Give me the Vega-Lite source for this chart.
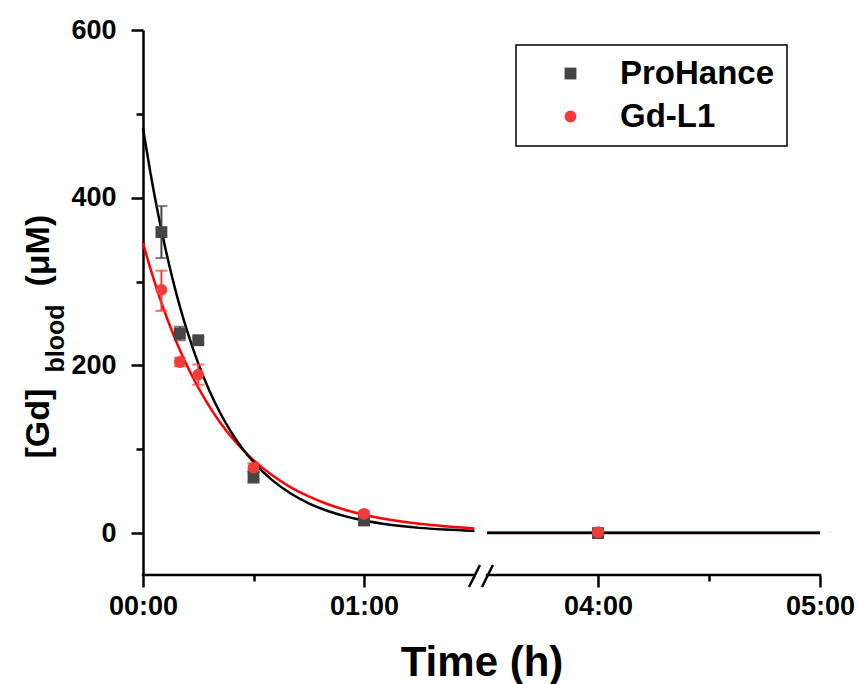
{
  "$schema": "https://vega.github.io/schema/vega-lite/v6.json",
  "width": 677,
  "height": 545,
  "autosize": {"type": "none"},
  "padding": {"left": 143, "top": 30, "right": 38, "bottom": 109},
  "background": "white",
  "config": {
    "view": {"stroke": null},
    "font": "Liberation Sans",
    "axis": {"grid": false},
    "legend": {
      "orient": "none", "legendX": 373, "legendY": 15, "padding": 12,
      "strokeColor": "black", "strokeWidth": 1.5, "fillColor": "white",
      "labelFont": "Liberation Sans", "labelFontSize": 33, "labelFontWeight": "bold", "labelColor": "black",
      "symbolSize": 140, "symbolOffset": 26, "labelOffset": 33, "rowPadding": 9, "symbolStrokeWidth": 0
    }
  },
  "datasets": {
    "pts": [
      {"series": "ProHance", "t": 5, "v": 359, "lo": 328, "hi": 390},
      {"series": "ProHance", "t": 10, "v": 238, "lo": 230, "hi": 246},
      {"series": "ProHance", "t": 15, "v": 230, "lo": 226, "hi": 234},
      {"series": "ProHance", "t": 30, "v": 67, "lo": 60, "hi": 75},
      {"series": "ProHance", "t": 60, "v": 15, "lo": 11, "hi": 19},
      {"series": "ProHance", "t": 240, "v": 0},
      {"series": "Gd-L1", "t": 5, "v": 290, "lo": 265, "hi": 313},
      {"series": "Gd-L1", "t": 10, "v": 204, "lo": 199, "hi": 209},
      {"series": "Gd-L1", "t": 15, "v": 189, "lo": 177, "hi": 201},
      {"series": "Gd-L1", "t": 30, "v": 78, "lo": 73, "hi": 83},
      {"series": "Gd-L1", "t": 60, "v": 23, "lo": 20, "hi": 26},
      {"series": "Gd-L1", "t": 240, "v": 1}
    ],
    "curves": [
      {"series": "ProHance", "seg": "L", "t": 0, "v": 483},
      {"series": "ProHance", "seg": "L", "t": 2, "v": 430.1},
      {"series": "ProHance", "seg": "L", "t": 4, "v": 383.0},
      {"series": "ProHance", "seg": "L", "t": 6, "v": 341.1},
      {"series": "ProHance", "seg": "L", "t": 8, "v": 303.7},
      {"series": "ProHance", "seg": "L", "t": 10, "v": 270.4},
      {"series": "ProHance", "seg": "L", "t": 12, "v": 240.8},
      {"series": "ProHance", "seg": "L", "t": 15, "v": 202.4},
      {"series": "ProHance", "seg": "L", "t": 18, "v": 170.0},
      {"series": "ProHance", "seg": "L", "t": 21, "v": 142.9},
      {"series": "ProHance", "seg": "L", "t": 24, "v": 120.1},
      {"series": "ProHance", "seg": "L", "t": 27, "v": 100.9},
      {"series": "ProHance", "seg": "L", "t": 30, "v": 84.8},
      {"series": "ProHance", "seg": "L", "t": 35, "v": 63.4},
      {"series": "ProHance", "seg": "L", "t": 40, "v": 47.5},
      {"series": "ProHance", "seg": "L", "t": 45, "v": 35.5},
      {"series": "ProHance", "seg": "L", "t": 50, "v": 26.6},
      {"series": "ProHance", "seg": "L", "t": 55, "v": 19.9},
      {"series": "ProHance", "seg": "L", "t": 60, "v": 14.9},
      {"series": "ProHance", "seg": "L", "t": 67, "v": 9.9},
      {"series": "ProHance", "seg": "L", "t": 75, "v": 6.2},
      {"series": "ProHance", "seg": "L", "t": 82, "v": 4.2},
      {"series": "ProHance", "seg": "L", "t": 90, "v": 2.6},
      {"series": "ProHance", "seg": "R", "t": 210, "v": 0},
      {"series": "ProHance", "seg": "R", "t": 300, "v": 0},
      {"series": "Gd-L1", "seg": "L", "t": 0, "v": 346},
      {"series": "Gd-L1", "seg": "L", "t": 2, "v": 315.6},
      {"series": "Gd-L1", "seg": "L", "t": 4, "v": 287.8},
      {"series": "Gd-L1", "seg": "L", "t": 6, "v": 262.5},
      {"series": "Gd-L1", "seg": "L", "t": 8, "v": 239.5},
      {"series": "Gd-L1", "seg": "L", "t": 10, "v": 218.4},
      {"series": "Gd-L1", "seg": "L", "t": 12, "v": 199.2},
      {"series": "Gd-L1", "seg": "L", "t": 15, "v": 173.6},
      {"series": "Gd-L1", "seg": "L", "t": 18, "v": 151.2},
      {"series": "Gd-L1", "seg": "L", "t": 21, "v": 131.7},
      {"series": "Gd-L1", "seg": "L", "t": 24, "v": 114.7},
      {"series": "Gd-L1", "seg": "L", "t": 27, "v": 99.9},
      {"series": "Gd-L1", "seg": "L", "t": 30, "v": 87.0},
      {"series": "Gd-L1", "seg": "L", "t": 35, "v": 69.2},
      {"series": "Gd-L1", "seg": "L", "t": 40, "v": 54.9},
      {"series": "Gd-L1", "seg": "L", "t": 45, "v": 43.7},
      {"series": "Gd-L1", "seg": "L", "t": 50, "v": 34.7},
      {"series": "Gd-L1", "seg": "L", "t": 55, "v": 27.6},
      {"series": "Gd-L1", "seg": "L", "t": 60, "v": 21.9},
      {"series": "Gd-L1", "seg": "L", "t": 67, "v": 15.9},
      {"series": "Gd-L1", "seg": "L", "t": 75, "v": 11.0},
      {"series": "Gd-L1", "seg": "L", "t": 82, "v": 8.0},
      {"series": "Gd-L1", "seg": "L", "t": 90, "v": 5.5},
      {"series": "Gd-L1", "seg": "R", "t": 210, "v": 0.8},
      {"series": "Gd-L1", "seg": "R", "t": 300, "v": 0.8}
    ]
  },
  "layer": [
    {
      "data": {"name": "curves"},
      "transform": [{"filter": "datum.series == 'Gd-L1'"}],
      "mark": {"type": "line", "color": "#ff0000", "strokeWidth": 2.5, "interpolate": "monotone"},
      "encoding": {
        "x": {"field": "t", "type": "quantitative"},
        "y": {
          "field": "v", "type": "quantitative",
          "axis": {
            "orient": "left", "values": [100, 300, 500], "labels": false, "domain": false, "grid": false,
            "ticks": true, "tickSize": 7, "tickWidth": 2.5, "tickColor": "black",
            "title": "blood", "titleFont": "Liberation Sans", "titleFontSize": 25, "titleFontWeight": "bold",
            "titleColor": "black", "titleAngle": 270, "titleAlign": "left", "titleBaseline": "alphabetic",
            "titleX": -80, "titleY": 342
          }
        },
        "detail": {"field": "seg"}
      }
    },
    {
      "data": {"name": "curves"},
      "transform": [{"filter": "datum.series == 'ProHance'"}],
      "mark": {"type": "line", "color": "#000000", "strokeWidth": 2.5, "interpolate": "monotone"},
      "encoding": {
        "x": {"field": "t", "type": "quantitative"},
        "y": {
          "field": "v", "type": "quantitative",
          "axis": {
            "orient": "left", "labels": false, "ticks": false, "domain": false, "grid": false,
            "title": "(μM)", "titleFont": "Liberation Sans", "titleFontSize": 34, "titleFontWeight": "bold",
            "titleColor": "black", "titleAngle": 270, "titleAlign": "left", "titleBaseline": "alphabetic",
            "titleX": -95, "titleY": 256
          }
        },
        "detail": {"field": "seg"}
      }
    },
    {
      "data": {"name": "pts"},
      "transform": [{"filter": "datum.series == 'ProHance' && isValid(datum.lo)"}],
      "mark": {"type": "errorbar", "color": "#454545", "thickness": 2, "ticks": {"size": 12, "thickness": 2}},
      "encoding": {
        "x": {"field": "t", "type": "quantitative"},
        "y": {"field": "lo", "type": "quantitative", "axis": null},
        "y2": {"field": "hi"}
      }
    },
    {
      "data": {"name": "pts"},
      "transform": [{"filter": "datum.series == 'Gd-L1' && isValid(datum.lo)"}],
      "mark": {"type": "errorbar", "color": "#f23c3c", "thickness": 2, "ticks": {"size": 12, "thickness": 2}},
      "encoding": {
        "x": {"field": "t", "type": "quantitative"},
        "y": {"field": "lo", "type": "quantitative", "axis": null},
        "y2": {"field": "hi"}
      }
    },
    {
      "data": {"name": "pts"},
      "mark": {"type": "point", "filled": true, "opacity": 1, "size": 140},
      "encoding": {
        "x": {
          "field": "t", "type": "quantitative",
          "scale": {"domain": [0, 90, 210, 300], "range": [0, 331.5, 344, 677], "nice": false, "zero": false},
          "axis": {
            "values": [0, 30, 60, 240, 270, 300],
            "labelExpr": "datum.value % 60 == 0 ? '0' + (datum.value / 60) + ':00' : ''",
            "domain": false,
            "tickColor": "black", "tickWidth": 2.5,
            "tickSize": {"condition": {"test": "datum.value % 60 == 0", "value": 12}, "value": 6},
            "labelFont": "Liberation Sans", "labelFontSize": 27, "labelFontWeight": "bold", "labelColor": "black",
            "labelPadding": 6, "labelFlush": false, "labelOverlap": false,
            "title": "Time (h)", "titleFont": "Liberation Sans", "titleFontSize": 42, "titleFontWeight": "bold",
            "titleColor": "black", "titlePadding": 23
          }
        },
        "y": {
          "field": "v", "type": "quantitative",
          "scale": {"domain": [-50, 600], "nice": false, "zero": false},
          "axis": {
            "orient": "left",
            "values": [0, 200, 400, 600],
            "domainColor": "black", "domainWidth": 2.5,
            "ticks": true, "tickColor": "black", "tickWidth": 2.5, "tickSize": 12,
            "labelFont": "Liberation Sans", "labelFontSize": 27, "labelFontWeight": "bold", "labelColor": "black",
            "labelPadding": 15,
            "title": "[Gd]", "titleFont": "Liberation Sans", "titleFontSize": 34, "titleFontWeight": "bold",
            "titleColor": "black", "titleAngle": 270, "titleAlign": "left", "titleBaseline": "alphabetic",
            "titleX": -95, "titleY": 428
          }
        },
        "color": {
          "field": "series", "type": "nominal", "title": null,
          "scale": {"domain": ["ProHance", "Gd-L1"], "range": ["#454545", "#f23c3c"]}
        },
        "shape": {
          "field": "series", "type": "nominal", "title": null,
          "scale": {"domain": ["ProHance", "Gd-L1"], "range": ["square", "circle"]}
        }
      }
    },
    {
      "data": {"values": [{}]},
      "mark": {"type": "rule", "color": "black", "strokeWidth": 2.5, "strokeCap": "square"},
      "encoding": {"x": {"datum": 0}, "x2": {"datum": 90}, "y": {"datum": -50, "axis": null}}
    },
    {
      "data": {"values": [{}]},
      "mark": {"type": "rule", "color": "black", "strokeWidth": 2.5, "strokeCap": "square"},
      "encoding": {"x": {"datum": 210}, "x2": {"datum": 300}, "y": {"datum": -50, "axis": null}}
    },
    {
      "data": {"values": [{}]},
      "mark": {"type": "rule", "color": "black", "strokeWidth": 2.5},
      "encoding": {"x": {"datum": 88.5}, "x2": {"datum": 142.8}, "y": {"datum": -64.3, "axis": null}, "y2": {"datum": -38.1}}
    },
    {
      "data": {"values": [{}]},
      "mark": {"type": "rule", "color": "black", "strokeWidth": 2.5},
      "encoding": {"x": {"datum": 162}, "x2": {"datum": 211.6}, "y": {"datum": -64.3, "axis": null}, "y2": {"datum": -38.1}}
    }
  ],
  "resolve": {"scale": {"y": "shared"}, "axis": {"y": "independent"}}
}
